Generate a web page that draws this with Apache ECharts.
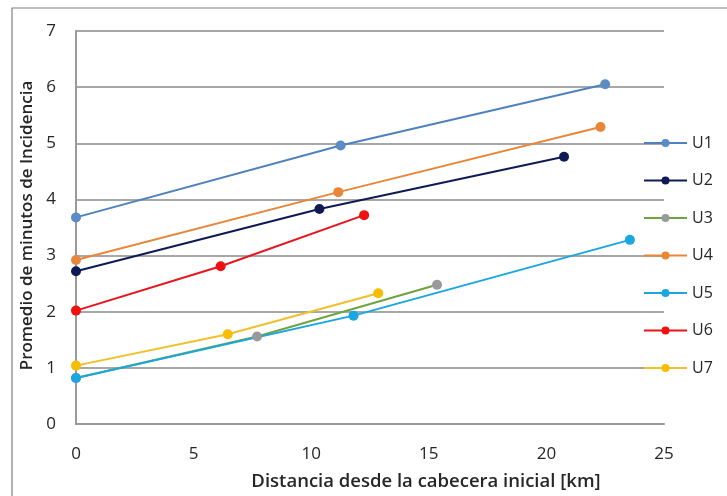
<!DOCTYPE html>
<html><head><meta charset="utf-8">
<script src="https://cdn.jsdelivr.net/npm/echarts@6/dist/echarts.min.js"></script>
<style>html,body{margin:0;padding:0;background:#fff}#c{width:727px;height:496px}</style>
</head><body><div id="c"></div>
<script>
const seriesNames = ['U1','U2','U3','U4','U5','U6','U7'];
const U1 = [[0,3.68],[11.25,4.96],[22.5,6.05]];
const U2 = [[0,2.72],[10.35,3.83],[20.75,4.76]];
const U3 = [[0,0.82],[7.7,1.56],[15.35,2.48]];
const U4 = [[0,2.92],[11.15,4.13],[22.3,5.29]];
const U5 = [[0,0.82],[11.8,1.93],[23.55,3.28]];
const U6 = [[0,2.02],[6.15,2.81],[12.25,3.72]];
const U7 = [[0,1.04],[6.45,1.6],[12.85,2.33]];
const seriesData = [U1,U2,U3,U4,U5,U6,U7];
const xTicks = [0,5,10,15,20,25];
const yTicks = [0,1,2,3,4,5,6,7];

const lineColors = ['#4f81bd','#0f1a55','#6fa33f','#e8873a','#1aa6e0','#e8141c','#f0c02a'];
const markColors = ['#5b8cc4','#0f1a55','#9a9a9a','#e8873a','#1aa6e0','#f01010','#f8bc00'];
const FONT = 'Open Sans';

const chart = echarts.init(document.getElementById('c'));
chart.setOption({
  animation:false,
  graphic:[{type:'rect',shape:{x:12,y:8,width:730,height:500},style:{fill:'none',stroke:'#7f7f7f',lineWidth:1.2},z:-1}],
  grid:{left:76,right:63,top:31,bottom:72,containLabel:false,outerBoundsMode:'none'},
  legend:{
    orient:'vertical', left:638, top:130, itemGap:21.5, itemWidth:43, itemHeight:10,
    textStyle:{fontFamily:FONT,fontSize:16,color:'#262626'},
    data:seriesNames
  },
  xAxis:{type:'value',min:xTicks[0],max:xTicks[xTicks.length-1],interval:5,
    name:'Distancia desde la cabecera inicial [km]',nameLocation:'middle',nameGap:48,
    nameTextStyle:{fontFamily:FONT,fontSize:18.5,fontWeight:600,color:'#262626',padding:[0,0,0,112]},
    axisLine:{lineStyle:{color:'#999',width:2}},axisTick:{show:false},
    axisLabel:{fontFamily:FONT,fontSize:17,color:'#262626',margin:22},
    splitLine:{show:false}},
  yAxis:{type:'value',min:yTicks[0],max:yTicks[yTicks.length-1],interval:1,
    name:'Promedio de minutos de Incidencia',nameLocation:'middle',nameGap:22,
    nameTextStyle:{fontFamily:FONT,fontSize:17,fontWeight:600,color:'#262626',padding:[0,0,0,4]},
    axisLine:{show:true,lineStyle:{color:'#999',width:2}},axisTick:{show:false},
    axisLabel:{fontFamily:FONT,fontSize:17,color:'#262626',margin:20},
    splitLine:{show:true,lineStyle:{color:'#8a8a8a',width:1.5}}},
  series:seriesNames.map((n,i)=>({
    name:n,type:'line',data:seriesData[i],symbol:'circle',symbolSize:10,
    lineStyle:{color:lineColors[i],width:2},
    itemStyle:{color:markColors[i]}
  }))
});
</script></body></html>
